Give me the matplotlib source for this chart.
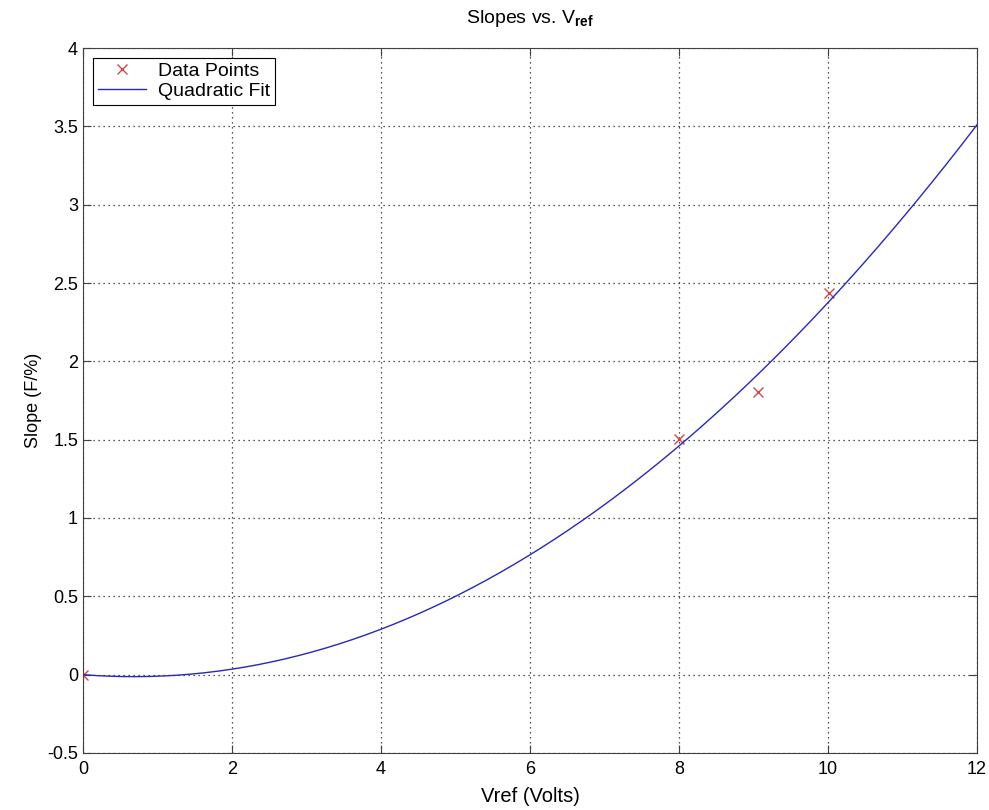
import numpy as np
import matplotlib
matplotlib.use('Agg')
import matplotlib.pyplot as plt

# data
vref = [0.0, 8.0, 9.06, 10.01]
slope = [0.0, 1.505, 1.807, 2.435]

# quadratic fit coefficients (a, b, c)
fit_coef = [0.0275, -0.0375, 0.0]

x_ticks = [0, 2, 4, 6, 8, 10, 12]
y_ticks = [-0.5, 0, 0.5, 1, 1.5, 2, 2.5, 3, 3.5, 4]
y_tick_labels = ['-0.5', '0', '0.5', '1', '1.5', '2', '2.5', '3', '3.5', '4']

plt.rcParams['font.family'] = ['Liberation Sans', 'DejaVu Sans']
plt.rcParams['mathtext.fontset'] = 'custom'
plt.rcParams['mathtext.rm'] = 'Liberation Sans'
plt.rcParams['mathtext.bf'] = 'Liberation Sans:bold'

xf = np.linspace(0, 12, 200)
yf = np.polyval(fit_coef, xf)

fig = plt.figure(figsize=(9.89, 8.10), dpi=100)
ax = fig.add_axes([0.0839, 0.0704, 0.9040, 0.8703])

ax.plot(vref, slope, 'x', color='#d04848', markersize=7, markeredgewidth=1.0, label='Data Points')
ax.plot(xf, yf, '-', color='#2828b8', linewidth=1.0, label='Quadratic Fit')

ax.set_xlim(0, 12)
ax.set_ylim(-0.5, 4)
ax.set_xticks(x_ticks)
ax.set_yticks(y_ticks)
ax.set_xticklabels([str(t) for t in x_ticks])
ax.set_yticklabels(y_tick_labels)
ax.tick_params(direction='in', top=True, right=True, length=6, labelsize=13, color='#404040')
ax.tick_params(axis='x', pad=6)
ax.grid(True, linestyle=(0, (1, 3)), color='#202020', linewidth=0.9)
for s in ax.spines.values():
    s.set_color('#404040')

ax.set_xlabel('Vref (Volts)', fontsize=14.5, labelpad=6)
ax.set_ylabel('Slope (F/%)', fontsize=13, labelpad=4)
ax.set_title(r'Slopes vs. V$_{\mathbf{ref}}$', fontsize=14, pad=18)

leg = ax.legend(loc='upper left', fontsize=14, fancybox=False, framealpha=1,
                edgecolor='black', borderaxespad=0.5, handlelength=2.5,
                handletextpad=0.6, borderpad=0.25, labelspacing=0.1)
leg.get_frame().set_linewidth(0.8)

fig.savefig('out.png', dpi=100)
